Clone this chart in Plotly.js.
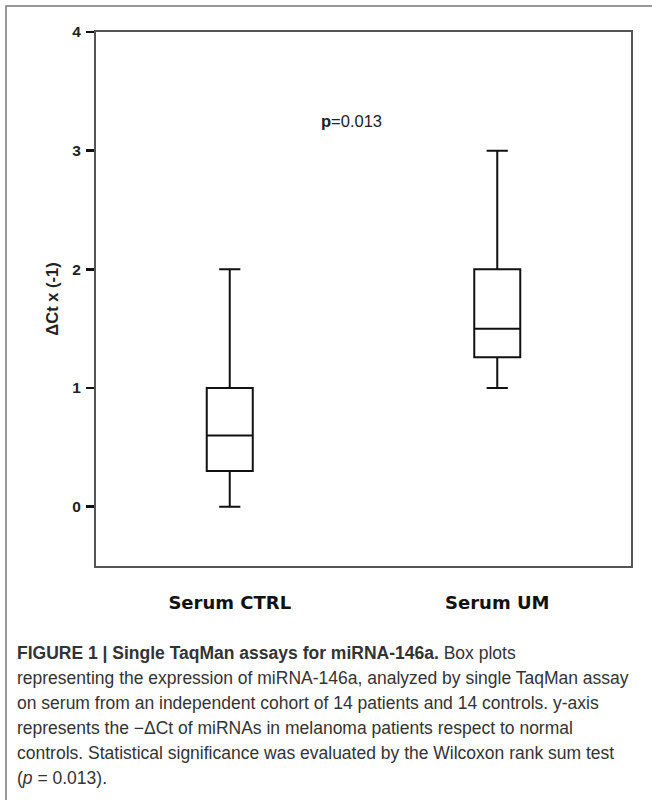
<!DOCTYPE html>
<html>
<head>
<meta charset="utf-8">
<script src="https://cdn.plot.ly/plotly-3.0.1.min.js"></script>
<style>html,body{margin:0;padding:0;background:#fff;}#chart{width:652px;height:800px;}</style>
</head>
<body>
<div id="chart"></div>
<script>
const categories = ["Serum CTRL", "Serum UM"];
const lowerWhisker = [0.0, 1.0];
const q1Values = [0.3, 1.26];
const medianValues = [0.6, 1.5];
const q3Values = [1.0, 2.0];
const upperWhisker = [2.0, 3.0];
const yTickValues = [0, 1, 2, 3, 4];
const yTickLabels = ["0", "1", "2", "3", "4"];
const pValueLabel = "p";
const pValueNumber = "=0.013";
const yTitle = "ΔCt x (-1)";
const captionLines = [
  "<b>FIGURE 1 | Single TaqMan assays for miRNA-146a.</b> Box plots",
  "representing the expression of miRNA-146a, analyzed by single TaqMan assay",
  "on serum from an independent cohort of 14 patients and 14 controls. y-axis",
  "represents the \u2212\u0394Ct of miRNAs in melanoma patients respect to normal",
  "controls. Statistical significance was evaluated by the Wilcoxon rank sum test",
  "(<i>p</i> = 0.013)."
];

const L = 96, R = 631, T = 32, B = 566, W = 652, H = 800;
const px = x => (x - L) / (R - L);
const py = y => (B - y) / (B - T);

const trace = {
  type: "box",
  x: categories,
  q1: q1Values,
  median: medianValues,
  q3: q3Values,
  lowerfence: lowerWhisker,
  upperfence: upperWhisker,
  boxpoints: false,
  width: 0.172,
  whiskerwidth: 0.46,
  fillcolor: "rgba(255,255,255,0)",
  line: {color: "#111", width: 2},
  hoverinfo: "skip",
  showlegend: false
};

const annotations = [{
  text: "<b>" + pValueLabel + "</b>" + pValueNumber,
  xref: "paper", yref: "paper",
  x: px(351), y: py(110),
  showarrow: false,
  font: {family: "Liberation Sans, Arial, sans-serif", size: 16.5, color: "#222"}
}];
const captionY0 = 653, captionStep = 25;
captionLines.forEach((t, i) => {
  annotations.push({
    text: t,
    xref: "paper", yref: "paper",
    x: px(15), y: py(captionY0 + i * captionStep),
    xanchor: "left", yanchor: "middle",
    showarrow: false, align: "left",
    font: {family: "Liberation Sans, Arial, sans-serif", size: 17.5, color: "#333"}
  });
});

const layout = {
  width: W, height: H,
  margin: {l: L, r: W - R, t: T, b: H - B, pad: 0},
  paper_bgcolor: "#fff",
  plot_bgcolor: "#fff",
  font: {family: "Liberation Sans, Arial, sans-serif", color: "#222"},
  xaxis: {
    type: "category",
    range: [-0.5, 1.5],
    showline: true, mirror: true, linecolor: "#555", linewidth: 2,
    showgrid: false, zeroline: false,
    ticks: "",
    ticklabelstandoff: 19,
    tickfont: {family: "DejaVu Sans, Verdana, sans-serif", size: 18, color: "#111", weight: "bold"}
  },
  yaxis: {
    range: [-0.5, 4],
    tickvals: yTickValues,
    ticktext: yTickLabels,
    showline: true, mirror: true, linecolor: "#555", linewidth: 2,
    showgrid: false, zeroline: false,
    ticks: "outside", ticklen: 8, tickwidth: 2.5, tickcolor: "#111",
    ticklabelstandoff: 2,
    tickfont: {size: 15.5, color: "#222", weight: "bold"},
    title: {text: "<b>" + yTitle + "</b>", standoff: 10, font: {size: 16.5, color: "#222"}}
  },
  shapes: [{
    type: "rect", xref: "paper", yref: "paper",
    x0: px(6), x1: px(662), y0: py(812), y1: py(6),
    line: {color: "#777", width: 1.5}, fillcolor: "rgba(0,0,0,0)"
  }],
  annotations: annotations
};

Plotly.newPlot("chart", [trace], layout, {displayModeBar: false, staticPlot: true});
</script>
</body>
</html>
